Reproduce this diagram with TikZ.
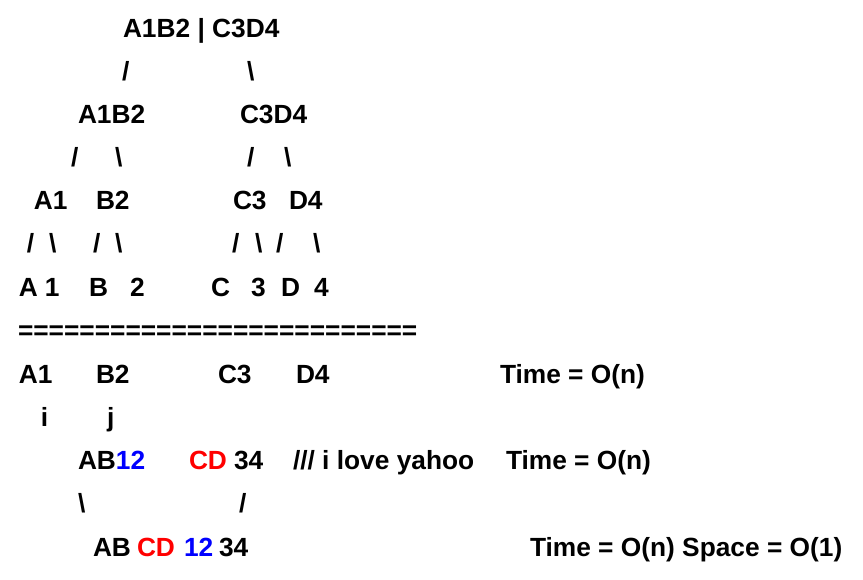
\documentclass[tikz,border=0pt]{standalone}
\usepackage{fontspec}
\setmainfont{Liberation Sans}
\definecolor{tred}{RGB}{255,0,0}
\definecolor{tblue}{RGB}{0,0,255}
\begin{document}
\begin{tikzpicture}[x=1pt,y=-1pt,
  tx/.style={anchor=base west,inner sep=0pt,outer sep=0pt,font=\fontsize{26.3}{30}\selectfont\bfseries}]
\useasboundingbox (0,0) rectangle (863,580);
% row 1
\node[tx] (r1) at (123,38) {A1B2 | C3D4};
% row 2
\node[tx] (r2a) at (122,81) {/};
\node[tx] (r2b) at (247,81) {\textbackslash};
% row 3
\node[tx] (r3a) at (78,124) {A1B2};
\node[tx] (r3b) at (240,124) {C3D4};
% row 4
\node[tx] (r4a) at (71,167) {/};
\node[tx] (r4b) at (115,167) {\textbackslash};
\node[tx] (r4c) at (247,167) {/};
\node[tx] (r4d) at (284,167) {\textbackslash};
% row 5
\node[tx] (r5a) at (34,210) {A1};
\node[tx] (r5b) at (96,210) {B2};
\node[tx] (r5c) at (233,210) {C3};
\node[tx] (r5d) at (289,210) {D4};
% row 6
\node[tx] (r6a) at (27,253) {/};
\node[tx] (r6b) at (49,253) {\textbackslash};
\node[tx] (r6c) at (93,253) {/};
\node[tx] (r6d) at (115,253) {\textbackslash};
\node[tx] (r6e) at (232,253) {/};
\node[tx] (r6f) at (255,253) {\textbackslash};
\node[tx] (r6g) at (276,253) {/};
\node[tx] (r6h) at (313,253) {\textbackslash};
% row 7
\node[tx] (r7a) at (19,297) {A};
\node[tx] (r7b) at (45,297) {1};
\node[tx] (r7c) at (89,297) {B};
\node[tx] (r7d) at (130,297) {2};
\node[tx] (r7e) at (211,297) {C};
\node[tx] (r7f) at (251,297) {3};
\node[tx] (r7g) at (281,297) {D};
\node[tx] (r7h) at (314,297) {4};
% row 8
\node[tx] (r8) at (18,340) {==========================};
% row 9
\node[tx] (r9a) at (19,383) {A1};
\node[tx] (r9b) at (96,383) {B2};
\node[tx] (r9c) at (218,383) {C3};
\node[tx] (r9d) at (296,383) {D4};
\node[tx] (r9t) at (500,383) {Time = O(n)};
% row 10
\node[tx] (r10a) at (41,426) {i};
\node[tx] (r10b) at (107,426) {j};
% row 11
\node[tx] (r11a) at (78,469) {AB\textcolor{tblue}{12}};
\node[tx] (r11b) at (189,469) {\textcolor{tred}{CD}};
\node[tx] (r11c) at (234,469) {34};
\node[tx] (r11d) at (293,469) {/// i love yahoo};
\node[tx] (r11t) at (506,469) {Time = O(n)};
% row 12
\node[tx] (r12a) at (78,512) {\textbackslash};
\node[tx] (r12b) at (239,512) {/};
% row 13
\node[tx] (r13a) at (93,556) {AB};
\node[tx] (r13b) at (137,556) {\textcolor{tred}{CD}};
\node[tx] (r13c) at (184,556) {\textcolor{tblue}{12}};
\node[tx] (r13d) at (219,556) {34};
\node[tx] (r13t) at (530,556) {Time = O(n) Space = O(1)};
\end{tikzpicture}
\end{document}
